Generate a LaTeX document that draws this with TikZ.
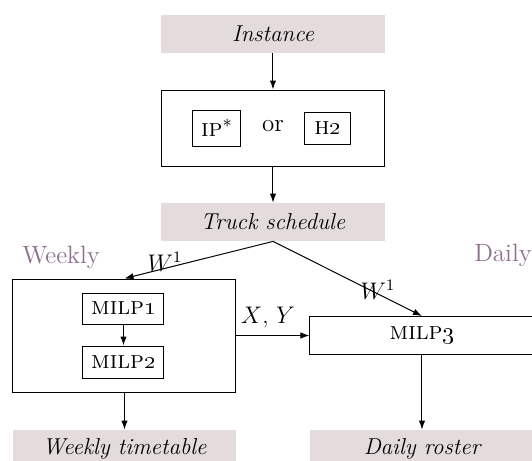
\documentclass[tikz,border=0pt]{standalone}
\usetikzlibrary{arrows.meta}
\definecolor{boxfill}{HTML}{E3DBDC}
\definecolor{lab}{HTML}{8E6F8E}
\begin{document}
\begin{tikzpicture}[x=0.5pt,y=-0.5pt,
  font=\fontsize{11.5}{13}\selectfont,
  io/.style={fill=boxfill, draw=none, minimum width=112pt, minimum height=19pt, inner sep=0pt, font=\fontsize{11.5}{13}\selectfont\itshape},
  frame/.style={draw, line width=0.5pt, inner sep=0pt},
  sc/.style={font=\fontsize{12.5}{14}\selectfont\scshape},
  arr/.style={-{Latex[length=4.5pt,width=3.2pt]}, line width=0.5pt},
  sidelab/.style={text=lab, font=\fontsize{12.5}{14}\selectfont}]
\clip (0,0) rectangle (532,461);
\node[io] (inst) at (273,33.5) {Instance};
\node[frame, minimum width=111.5pt, minimum height=38pt] (mid) at (273,128) {};
\node[frame, sc, minimum width=24pt, minimum height=18pt] (ip) at (217,128) {ip$^*$};
\node[font=\fontsize{12.5}{14}\selectfont] (or) at (273,126) {or};
\node[frame, sc, minimum width=23pt, minimum height=16pt] (h2) at (328,128) {h\oldstylenums{2}};
\node[io] (truck) at (273,222) {Truck schedule};
\node[sidelab] (wl) at (61,257) {Weekly};
\node[sidelab] (dl) at (503,255) {Daily};
\node[frame, minimum width=111.5pt, minimum height=56.5pt] (wk) at (124.5,335.5) {};
\node[frame, sc, minimum width=40.5pt, minimum height=15.5pt] (m1) at (123.5,308.5) {milp\oldstylenums{1}};
\node[frame, sc, minimum width=40.5pt, minimum height=16pt] (m2) at (123.5,362) {milp\oldstylenums{2}};
\node[frame, sc, minimum width=112pt, minimum height=19pt] (m3) at (422,335.5) {milp\oldstylenums{3}};
\node[io, minimum width=111.5pt] (wtt) at (124.5,449) {Weekly timetable};
\node[io] (dr) at (422,449) {Daily roster};
\node (w1a) at (165,262) {$W^1$};
\node (w1b) at (378,290) {$W^1$};
\node (xy) at (268,318) {$X$, $Y$};
\draw[arr] (inst) -- (mid);
\draw[arr] (mid) -- (truck);
\draw[arr] (truck.south) -- (wk.north);
\draw[arr] (truck.south) -- (m3.north);
\draw[arr] (m1) -- (m2);
\draw[arr] (wk.east) -- (m3.west);
\draw[arr] (wk) -- (wtt);
\draw[arr] (m3) -- (dr);
\end{tikzpicture}
\end{document}
